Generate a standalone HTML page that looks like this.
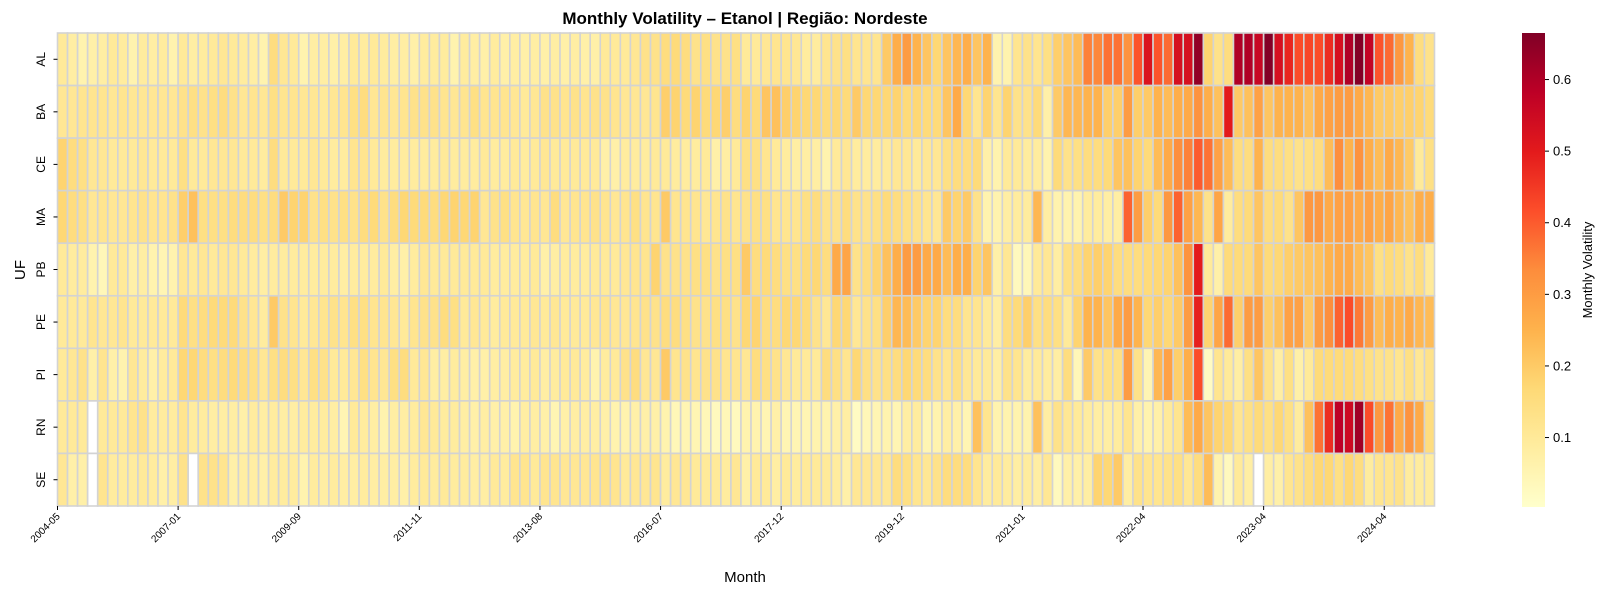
<!DOCTYPE html>
<html><head><meta charset="utf-8"><style>
html,body{margin:0;padding:0;background:#fff;}
svg{display:block;font-family:"Liberation Sans","DejaVu Sans",sans-serif;}
</style></head><body>
<svg id="chart" width="1606" height="590" viewBox="0 0 1606 590" xmlns="http://www.w3.org/2000/svg">
<text x="745" y="24" text-anchor="middle" font-size="17" font-weight="bold" fill="#000">Monthly Volatility – Etanol | Região: Nordeste</text>
<g id="cells"></g>
<g id="axes"></g>
<text x="745" y="582" text-anchor="middle" font-size="15">Month</text>
<text transform="translate(25,270) rotate(-90)" text-anchor="middle" font-size="15">UF</text>
<defs><linearGradient id="cbg" x1="0" y1="1" x2="0" y2="0">
<stop offset="0" stop-color="#ffffcc"/><stop offset="0.125" stop-color="#ffeda0"/><stop offset="0.25" stop-color="#fed976"/><stop offset="0.375" stop-color="#feb24c"/><stop offset="0.5" stop-color="#fd8d3c"/><stop offset="0.625" stop-color="#fc4e2a"/><stop offset="0.75" stop-color="#e31a1c"/><stop offset="0.875" stop-color="#bd0026"/><stop offset="1" stop-color="#800026"/></linearGradient></defs>
<rect x="1522" y="33" width="23" height="474" fill="url(#cbg)"/>
<g id="cbar"></g>
<text transform="translate(1592,270) rotate(-90)" text-anchor="middle" font-size="13">Monthly Volatility</text>
</svg>
<script>
const rowsUF = ["AL","BA","CE","MA","PB","PE","PI","RN","SE"];
const tickLabels = ["2004-05","2007-01","2009-09","2011-11","2013-08","2016-07","2017-12","2019-12","2021-01","2022-04","2023-04","2024-04"];
const tickEvery = 12;
const cbTicks = [0.1,0.2,0.3,0.4,0.5,0.6];
const vmin = 0.003, vmax = 0.665;
const N = null;
const AL = [0.10,0.08,0.06,0.07,0.08,0.10,0.09,0.06,0.09,0.08,0.09,0.06,0.10,0.08,0.09,0.10,0.11,0.10,0.09,0.08,0.06,0.15,0.11,0.10,
0.06,0.08,0.08,0.07,0.08,0.10,0.09,0.10,0.09,0.08,0.08,0.07,0.09,0.09,0.09,0.06,0.09,0.08,0.07,0.09,0.07,0.08,0.07,0.08,
0.07,0.08,0.07,0.08,0.07,0.07,0.10,0.10,0.10,0.11,0.13,0.13,0.15,0.16,0.15,0.13,0.14,0.13,0.13,0.14,0.10,0.10,0.11,0.12,
0.12,0.11,0.09,0.09,0.12,0.13,0.14,0.12,0.12,0.12,0.20,0.26,0.30,0.25,0.21,0.17,0.21,0.24,0.26,0.21,0.25,0.06,
0.06,0.12,0.13,0.12,0.14,0.19,0.21,0.23,0.35,0.34,0.37,0.37,0.32,0.41,0.52,0.41,0.38,0.53,0.53,0.64,
0.18,0.13,0.15,0.60,0.60,0.56,0.66,0.53,0.48,0.42,0.43,0.42,0.47,0.53,0.60,0.66,0.57,0.41,0.38,0.31,0.25,0.15,0.13];
const BA = [0.11,0.11,0.12,0.12,0.12,0.11,0.12,0.11,0.11,0.11,0.11,0.11,0.13,0.14,0.13,0.14,0.15,0.13,0.11,0.12,0.11,0.14,0.12,0.12,
0.11,0.11,0.10,0.11,0.12,0.14,0.15,0.11,0.12,0.11,0.12,0.13,0.13,0.13,0.12,0.11,0.12,0.14,0.12,0.12,0.12,0.11,0.10,0.11,
0.13,0.13,0.12,0.13,0.12,0.13,0.13,0.12,0.11,0.11,0.11,0.12,0.19,0.18,0.16,0.18,0.16,0.17,0.19,0.15,0.18,0.16,0.21,0.22,
0.19,0.18,0.17,0.17,0.16,0.17,0.16,0.20,0.17,0.17,0.17,0.18,0.16,0.17,0.16,0.16,0.21,0.27,0.17,0.12,0.18,0.12,
0.18,0.13,0.13,0.16,0.07,0.20,0.24,0.24,0.25,0.25,0.19,0.19,0.30,0.19,0.20,0.25,0.23,0.26,0.27,0.32,
0.26,0.22,0.50,0.20,0.22,0.29,0.21,0.25,0.25,0.25,0.22,0.27,0.29,0.30,0.30,0.27,0.24,0.20,0.20,0.19,0.19,0.18,0.16];
const CE = [0.18,0.15,0.14,0.11,0.11,0.10,0.10,0.10,0.11,0.10,0.10,0.10,0.14,0.10,0.10,0.11,0.11,0.11,0.10,0.10,0.09,0.15,0.10,0.10,
0.10,0.11,0.10,0.09,0.09,0.12,0.12,0.10,0.09,0.09,0.09,0.09,0.09,0.09,0.10,0.09,0.09,0.09,0.10,0.09,0.09,0.10,0.09,0.10,
0.11,0.10,0.10,0.10,0.10,0.10,0.07,0.07,0.09,0.09,0.09,0.10,0.10,0.09,0.09,0.09,0.10,0.07,0.08,0.10,0.14,0.14,0.12,0.10,
0.09,0.08,0.08,0.08,0.06,0.10,0.11,0.09,0.09,0.09,0.10,0.11,0.11,0.10,0.11,0.11,0.14,0.15,0.15,0.16,0.07,0.06,
0.10,0.10,0.09,0.09,0.06,0.16,0.13,0.14,0.15,0.15,0.16,0.21,0.22,0.18,0.16,0.23,0.27,0.33,0.35,0.40,
0.37,0.29,0.23,0.15,0.15,0.25,0.15,0.15,0.14,0.13,0.14,0.15,0.23,0.33,0.25,0.32,0.26,0.23,0.27,0.24,0.20,0.10,0.14];
const MA = [0.17,0.15,0.14,0.11,0.12,0.11,0.11,0.12,0.13,0.12,0.12,0.13,0.19,0.22,0.14,0.14,0.14,0.15,0.15,0.15,0.14,0.15,0.20,0.18,
0.18,0.13,0.14,0.13,0.14,0.13,0.15,0.16,0.13,0.15,0.17,0.16,0.16,0.15,0.17,0.18,0.17,0.18,0.11,0.13,0.14,0.12,0.11,0.12,
0.11,0.15,0.11,0.12,0.12,0.13,0.12,0.11,0.12,0.14,0.12,0.12,0.20,0.12,0.12,0.12,0.11,0.12,0.13,0.12,0.13,0.14,0.14,0.12,
0.12,0.12,0.14,0.15,0.13,0.13,0.15,0.13,0.13,0.14,0.16,0.15,0.14,0.13,0.12,0.11,0.20,0.18,0.20,0.13,0.06,0.06,
0.08,0.09,0.09,0.24,0.08,0.06,0.06,0.06,0.09,0.09,0.08,0.08,0.39,0.30,0.19,0.16,0.31,0.39,0.29,0.24,
0.13,0.28,0.09,0.15,0.16,0.21,0.15,0.16,0.13,0.21,0.31,0.31,0.27,0.29,0.29,0.27,0.29,0.26,0.28,0.24,0.22,0.26,0.26];
const PB = [0.10,0.09,0.09,0.06,0.04,0.10,0.10,0.07,0.08,0.06,0.05,0.06,0.11,0.10,0.11,0.10,0.11,0.11,0.10,0.09,0.08,0.09,0.09,0.09,
0.09,0.09,0.09,0.09,0.08,0.09,0.09,0.09,0.10,0.08,0.07,0.09,0.11,0.10,0.10,0.10,0.10,0.10,0.10,0.09,0.09,0.09,0.09,0.10,
0.07,0.08,0.09,0.09,0.09,0.10,0.10,0.10,0.11,0.12,0.12,0.18,0.13,0.13,0.13,0.14,0.14,0.13,0.14,0.14,0.20,0.15,0.16,0.15,
0.14,0.14,0.16,0.17,0.15,0.27,0.28,0.13,0.15,0.18,0.22,0.26,0.30,0.30,0.27,0.27,0.23,0.26,0.26,0.18,0.21,0.07,
0.11,0.03,0.04,0.10,0.11,0.08,0.14,0.15,0.18,0.19,0.18,0.15,0.15,0.15,0.16,0.17,0.18,0.22,0.32,0.50,
0.10,0.07,0.16,0.16,0.16,0.21,0.16,0.17,0.19,0.20,0.21,0.22,0.25,0.27,0.27,0.23,0.21,0.14,0.16,0.15,0.13,0.15,0.10];
const PE = [0.10,0.10,0.10,0.12,0.11,0.11,0.12,0.10,0.10,0.10,0.10,0.10,0.16,0.14,0.15,0.16,0.16,0.16,0.13,0.11,0.09,0.20,0.13,0.12,
0.10,0.11,0.12,0.13,0.12,0.14,0.14,0.12,0.12,0.11,0.10,0.12,0.13,0.13,0.15,0.14,0.10,0.11,0.10,0.09,0.10,0.10,0.10,0.11,
0.10,0.11,0.10,0.10,0.10,0.11,0.12,0.11,0.11,0.12,0.13,0.13,0.15,0.15,0.14,0.13,0.13,0.14,0.14,0.13,0.17,0.18,0.15,0.15,
0.17,0.17,0.16,0.13,0.11,0.17,0.17,0.11,0.13,0.14,0.19,0.24,0.23,0.20,0.18,0.18,0.15,0.15,0.12,0.12,0.10,0.08,
0.15,0.16,0.19,0.14,0.15,0.14,0.10,0.18,0.25,0.25,0.21,0.27,0.30,0.25,0.17,0.19,0.17,0.20,0.30,0.49,
0.18,0.28,0.38,0.19,0.30,0.30,0.19,0.22,0.29,0.29,0.20,0.30,0.33,0.39,0.42,0.36,0.30,0.23,0.26,0.25,0.27,0.24,0.23];
const PI = [0.10,0.11,0.13,0.07,0.12,0.07,0.06,0.11,0.09,0.07,0.09,0.10,0.17,0.17,0.15,0.14,0.15,0.16,0.15,0.14,0.11,0.14,0.15,0.14,
0.11,0.14,0.13,0.10,0.10,0.11,0.14,0.12,0.11,0.14,0.15,0.10,0.11,0.08,0.08,0.09,0.08,0.07,0.07,0.08,0.08,0.09,0.09,0.10,
0.08,0.09,0.10,0.10,0.09,0.06,0.09,0.10,0.13,0.15,0.11,0.11,0.20,0.12,0.13,0.12,0.13,0.13,0.12,0.12,0.11,0.15,0.14,0.13,
0.11,0.10,0.10,0.10,0.15,0.14,0.12,0.17,0.14,0.13,0.14,0.15,0.17,0.16,0.15,0.13,0.12,0.14,0.11,0.10,0.10,0.08,
0.13,0.12,0.09,0.10,0.09,0.08,0.15,0.04,0.20,0.13,0.14,0.14,0.30,0.13,0.05,0.24,0.29,0.19,0.26,0.42,
0.02,0.12,0.10,0.08,0.14,0.21,0.13,0.08,0.14,0.07,0.10,0.16,0.16,0.16,0.16,0.15,0.14,0.13,0.13,0.12,0.14,0.11,0.13];
const RN = [0.10,0.10,0.10,N,0.10,0.10,0.10,0.12,0.13,0.09,0.09,0.09,0.12,0.09,0.09,0.08,0.08,0.08,0.07,0.09,0.08,0.09,0.08,0.08,
0.09,0.09,0.09,0.08,0.05,0.10,0.09,0.08,0.06,0.08,0.08,0.09,0.11,0.10,0.09,0.09,0.08,0.07,0.08,0.07,0.07,0.06,0.08,0.08,
0.07,0.05,0.07,0.08,0.08,0.08,0.07,0.06,0.06,0.07,0.07,0.07,0.06,0.04,0.05,0.05,0.04,0.03,0.04,0.03,0.06,0.06,0.05,0.07,
0.05,0.05,0.05,0.06,0.06,0.07,0.08,0.02,0.04,0.05,0.06,0.05,0.08,0.09,0.05,0.06,0.08,0.07,0.05,0.22,0.12,0.06,
0.06,0.06,0.06,0.22,0.08,0.13,0.11,0.10,0.09,0.08,0.08,0.09,0.12,0.07,0.06,0.07,0.10,0.12,0.23,0.27,
0.21,0.18,0.17,0.12,0.14,0.16,0.14,0.17,0.14,0.09,0.22,0.37,0.47,0.58,0.55,0.62,0.42,0.31,0.37,0.27,0.32,0.27,0.15];
const SE = [0.11,0.07,0.07,N,0.12,0.09,0.09,0.09,0.10,0.09,0.07,0.08,0.13,N,0.13,0.13,0.12,0.07,0.08,0.08,0.07,0.09,0.09,0.09,
0.06,0.09,0.08,0.09,0.08,0.08,0.09,0.08,0.08,0.08,0.07,0.09,0.10,0.09,0.10,0.09,0.09,0.08,0.08,0.10,0.09,0.12,0.12,0.10,
0.12,0.12,0.11,0.11,0.11,0.12,0.13,0.12,0.10,0.11,0.11,0.12,0.09,0.11,0.11,0.10,0.10,0.10,0.09,0.11,0.07,0.10,0.10,0.08,
0.10,0.09,0.10,0.10,0.10,0.09,0.07,0.11,0.11,0.11,0.11,0.15,0.14,0.12,0.11,0.13,0.15,0.15,0.15,0.12,0.09,0.10,
0.09,0.08,0.09,0.08,0.11,0.03,0.07,0.07,0.08,0.18,0.17,0.20,0.08,0.13,0.12,0.12,0.13,0.14,0.11,0.15,
0.23,0.06,0.03,0.10,0.08,N,0.08,0.07,0.12,0.13,0.15,0.17,0.17,0.14,0.17,0.15,0.09,0.12,0.12,0.13,0.09,0.09,0.09];
const seriesRows = [AL,BA,CE,MA,PB,PE,PI,RN,SE];

const X0=57.5, X1=1434.5, Y0=33, Y1=506;
const nCols = AL.length;
const cw=(X1-X0)/nCols, rh=(Y1-Y0)/rowsUF.length;
const xCol = i => X0 + i*cw;
const yRow = r => Y0 + r*rh;
const stops=["#ffffcc","#ffeda0","#fed976","#feb24c","#fd8d3c","#fc4e2a","#e31a1c","#bd0026","#800026"];
function hex(h){return [1,3,5].map(i=>parseInt(h.substr(i,2),16));}
function color(v){
  let t=(v-vmin)/(vmax-vmin); t=Math.max(0,Math.min(1,t));
  const p=t*(stops.length-1), i=Math.min(stops.length-2,Math.floor(p)), f=p-i;
  const a=hex(stops[i]), b=hex(stops[i+1]);
  return "rgb("+a.map((c,k)=>Math.round(c+(b[k]-c)*f)).join(",")+")";
}
const NS="http://www.w3.org/2000/svg";
const cells=document.getElementById("cells");
seriesRows.forEach((row,r)=>{
  row.forEach((v,i)=>{
    const rc=document.createElementNS(NS,"rect");
    
    
    rc.setAttribute("x",xCol(i)); rc.setAttribute("y",yRow(r));
    rc.setAttribute("width",cw); rc.setAttribute("height",rh);
    rc.setAttribute("fill", v===null ? "#ffffff" : color(v));
    rc.setAttribute("stroke","#d3d3d3"); rc.setAttribute("stroke-width","1.6");
    cells.appendChild(rc);
  });
});
const axes=document.getElementById("axes");
rowsUF.forEach((u,r)=>{
  const cy=yRow(r)+rh/2;
  const tk=document.createElementNS(NS,"line");
  
  
  tk.setAttribute("x1",X0-4);tk.setAttribute("x2",X0);tk.setAttribute("y1",cy);tk.setAttribute("y2",cy);tk.setAttribute("stroke","#000");
  axes.appendChild(tk);
  const t=document.createElementNS(NS,"text");
  
  
  t.setAttribute("transform","translate(45,"+cy+") rotate(-90)");
  t.setAttribute("text-anchor","middle"); t.setAttribute("font-size","12");
  t.textContent=u; axes.appendChild(t);
});
tickLabels.forEach((lab,k)=>{
  const x=xCol(k*tickEvery);
  const tk=document.createElementNS(NS,"line");
  
  
  tk.setAttribute("x1",x);tk.setAttribute("x2",x);tk.setAttribute("y1",Y1);tk.setAttribute("y2",Y1+4);tk.setAttribute("stroke","#000");
  axes.appendChild(tk);
  const t=document.createElementNS(NS,"text");
  
  
  t.setAttribute("transform","translate("+(x+3)+","+(Y1+11)+") rotate(-45)");
  t.setAttribute("text-anchor","end"); t.setAttribute("font-size","10");
  t.textContent=lab; axes.appendChild(t);
});
const cb=document.getElementById("cbar");
const cbY = v => 507 - (v-vmin)/(vmax-vmin)*474;
cbTicks.forEach(v=>{
  const y=cbY(v);
  const tk=document.createElementNS(NS,"line");
  
  
  tk.setAttribute("x1",1545);tk.setAttribute("x2",1549);tk.setAttribute("y1",y);tk.setAttribute("y2",y);tk.setAttribute("stroke","#000");
  cb.appendChild(tk);
  const t=document.createElementNS(NS,"text");
  
  
  t.setAttribute("x",1553);t.setAttribute("y",y+4.5);t.setAttribute("font-size","13");
  t.textContent=v.toFixed(1); cb.appendChild(t);
});
</script>
</body></html>
